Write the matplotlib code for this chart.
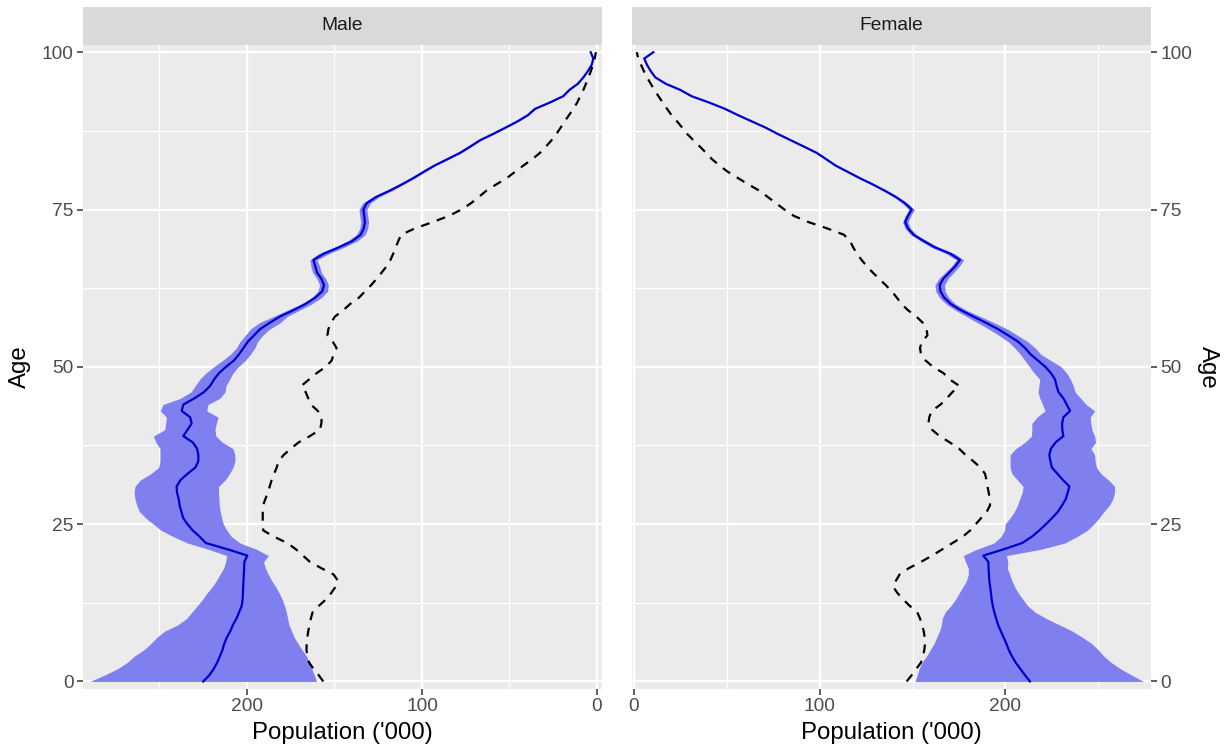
import numpy as np
import matplotlib
matplotlib.use('Agg')
import matplotlib.pyplot as plt
from matplotlib.ticker import MultipleLocator

plt.rcParams['font.family'] = ['Liberation Sans', 'DejaVu Sans']

ages = np.arange(0, 101)

# population ('000) by single year of age
male_med = [225, 221.5, 219, 217, 215.5, 214, 213, 211.5, 209.5, 208,
            206, 204.5, 203, 202.5, 202.3, 202.2, 202, 201.8, 201.6, 201.5,
            199.8, 211, 223.5, 227, 231, 234, 236.5, 237.5, 238.5, 239,
            240, 240.2, 238, 234, 229.5, 227.8, 227.8, 228.5, 231, 236.4,
            234, 231.6, 232.5, 237.3, 236.4, 230, 224.5, 221, 218.8, 216,
            212, 207.5, 204.5, 202, 199.5, 196, 192.5, 187, 181.1, 173.5,
            166.5, 161, 157, 156, 157.5, 160, 161, 162, 156, 147.5,
            139.8, 135, 133.3, 132.6, 133, 133.5, 131.6, 126.3, 118.5, 111.5,
            105, 99, 92.8, 85.5, 78.3, 72.5, 66.9, 59.5, 52.4, 45.5,
            39.5, 35.4, 27, 19.4, 15.8, 10.9, 7.8, 5.2, 3, 2.1,
            3.6]
male_hi = [289.7, 281.5, 274, 268.5, 264.5, 259, 255, 251.5, 247, 239.5,
           234.5, 231.5, 228.5, 225.5, 223, 220, 217.5, 215.5, 213.3, 212.2,
           211.6, 222, 234, 242, 249, 253.5, 258, 261.5, 263, 264,
           264.5, 264, 261, 255, 250.5, 249.7, 249.7, 249.7, 252, 253.5,
           247, 246.5, 246, 249.5, 248, 238, 232, 229.5, 227, 223.5,
           219, 214, 209.5, 206, 204, 201, 198, 193, 185, 177,
           169, 163, 159.5, 158.5, 160, 162.5, 163.5, 164, 159, 150,
           142.5, 137.5, 135.5, 135, 135.5, 136, 134, 128, 120, 113,
           106, 99.8, 93.5, 86.2, 79, 73.2, 67.5, 60.2, 53, 46.2,
           40, 36, 27.5, 19.8, 16.1, 11.2, 8, 5.4, 3.2, 2.3,
           3.8]
male_lo = [160.2, 161.5, 163, 164.5, 166, 168.5, 170.8, 173, 174.5, 176,
           176.8, 177.5, 178.5, 179.8, 181.5, 183.5, 185.8, 187.8, 189.5, 190.5,
           187.8, 194.5, 204, 208.8, 211.5, 213.5, 214.5, 215.3, 215.8, 216,
           216.3, 216.2, 212.5, 210, 208, 206.9, 206.9, 208, 214, 217.8,
           218.3, 217.5, 216.5, 223, 222.3, 215.5, 212.5, 212, 210, 208,
           205, 201, 198, 195.5, 194, 191, 187, 181, 177, 170,
           163, 157.5, 154, 153.5, 155, 157.5, 158.5, 160, 153, 144.5,
           137, 132.5, 131, 130.5, 131, 131.5, 129.5, 124.5, 117, 110.5,
           104, 98.2, 92, 84.8, 77.5, 71.8, 66.3, 58.8, 51.8, 44.8,
           39, 35, 26.7, 19, 15.5, 10.6, 7.6, 5.1, 2.9, 2.0,
           3.4]
male_obs = [156.4, 159, 162, 164.5, 165.5, 166, 165.9, 165.5, 165, 164.2,
            163.5, 162.5, 159, 155, 152, 149.5, 148, 150.5, 157.5, 164,
            168, 172, 177, 184.5, 190.7, 191, 191, 191, 190.8, 189.5,
            188, 187, 185.9, 184.5, 183, 182, 179, 175, 170.5, 164,
            158.3, 157.5, 157.3, 159.5, 163.5, 165, 166.5, 168.8, 164.5, 160.2,
            155, 151.6, 150.5, 148.8, 151, 154, 153.5, 152, 149.7, 145,
            141, 136, 132.5, 129, 125.9, 123, 120.2, 118, 116.4, 115,
            113.5, 112, 104, 94, 84.5, 77.5, 72, 67.5, 63.2, 57.5,
            51.5, 46.8, 42, 37, 32.6, 29.2, 26, 23.2, 20.8, 18.5,
            16, 13.5, 11.3, 9.6, 7.8, 6.3, 4.8, 3.5, 2.3, 1.3,
            0.6]

female_med = [213.2, 210.5, 208, 205.5, 203.5, 201.8, 200.5, 199, 197.5, 196,
              195, 194, 193.2, 192.6, 192.2, 191.8, 191.3, 191.1, 190.9, 190.8,
              188.1, 199, 209, 214.2, 218.2, 221.8, 225.2, 228.3, 230.5, 232.5,
              233.5, 234.4, 231, 228, 225, 224.2, 223.6, 224.5, 227, 231.2,
              230.6, 230.5, 231.2, 234.8, 233, 231.2, 228.5, 227.5, 226.7, 224.5,
              221.5, 217.5, 213.5, 210.5, 206.8, 201.5, 196, 189.5, 182.7, 176,
              170.5, 167, 165, 164.6, 166.5, 169.8, 173, 175.5, 170.2, 162,
              156, 150.5, 147.5, 146, 147.5, 149.5, 145.9, 141, 135, 128.5,
              121.5, 115, 108.5, 103.5, 98.4, 91.5, 84.5, 77.5, 71, 63.5,
              56, 49, 40.5, 31.1, 25, 17, 11.5, 9, 7, 5.5,
              10.4]
female_lo = [151.3, 152.5, 153.5, 155, 157.5, 159.5, 161.5, 163, 164.5, 165.5,
             166, 167.5, 170.5, 173, 175, 177, 179, 180, 180, 178.5,
             177.3, 184.5, 193.8, 197.5, 199.5, 199.8, 202.5, 204.8, 206.5, 207.6,
             209, 209.5, 206.5, 203.5, 202.5, 202.5, 202.5, 205.5, 210.5, 214,
             214.2, 214.2, 217, 221.3, 220, 218.5, 217.5, 218, 218.5, 215.5,
             213, 210.5, 208, 205, 201.5, 196.5, 191, 185, 179, 173,
             168, 164.5, 162.5, 162, 164, 167.5, 171, 173.5, 168, 160,
             154.3, 149, 146, 144.6, 146, 148, 144.5, 139.8, 134, 127.7,
             120.7, 114.3, 107.8, 102.9, 97.8, 90.9, 84, 77, 70.5, 63,
             55.5, 48.5, 40.1, 30.7, 24.7, 16.7, 11.3, 8.8, 6.8, 5.3,
             10.2]
female_hi = [274.3, 268, 262, 257, 253, 250, 246.5, 241.5, 236, 229,
             222, 216, 212, 209.5, 207, 205, 203.5, 202.3, 201, 201.3,
             200.5, 219, 232, 238.4, 244, 247.5, 250.5, 253, 256, 257.8,
             258.7, 258.8, 255.5, 251.5, 249, 248.3, 248, 246, 248.5, 248,
             246.5, 246, 245.6, 248, 243.5, 240.5, 237.5, 236.5, 235, 233,
             230, 224.5, 219, 216, 212, 206.5, 201, 194, 186.5, 179,
             173, 169.5, 167.5, 167.2, 169, 172.2, 175.2, 177.5, 172.5, 164,
             157.8, 152, 149, 147.5, 149, 151, 147.3, 142.2, 136, 129.3,
             122.3, 115.7, 109.2, 104.1, 99, 92.1, 85, 78, 71.5, 64,
             56.5, 49.5, 40.9, 31.5, 25.3, 17.3, 11.7, 9.2, 7.2, 5.7,
             10.6]
female_obs = [146.8, 149.5, 152, 154.5, 155.5, 156.3, 156.7, 156.5, 156, 155,
              154, 152.5, 148.5, 145, 142, 139.6, 141, 143, 148, 154.5,
              160.5, 166, 171.5, 177, 181, 184, 187, 190, 191.7, 191.5,
              191, 190.3, 189.8, 189, 186.5, 182.7, 178.5, 175, 170, 164.5,
              160.5, 158.5, 159, 160.3, 165, 168.4, 171.5, 175, 170, 166.6,
              161, 157, 154.5, 154, 155, 158, 157.5, 155.5, 152, 147.5,
              144, 141.5, 138.8, 135.5, 132, 128.5, 125.3, 122.5, 120, 118,
              116.3, 113, 104, 94, 86, 81, 76.5, 72, 67.5, 61.5,
              56, 50.5, 46, 42, 38.8, 35.5, 32, 28.7, 26, 23.2,
              20.2, 17.8, 15.5, 13.2, 11, 9, 7, 5.3, 3.8, 2.3,
              1.5]

W, H = 1227, 749
fig = plt.figure(figsize=(W / 100, H / 100), dpi=100)


def px_axes(x0, y0, x1, y1):
    return fig.add_axes([x0 / W, 1 - y1 / H, (x1 - x0) / W, (y1 - y0) / H])


panels = [
    ("Male", 83, 601.7, (293.7, -2.7), male_lo, male_hi, male_med, male_obs, 'left'),
    ("Female", 632, 1150.7, (-1.08, 278.2), female_lo, female_hi, female_med, female_obs, 'right'),
]

for name, x0, x1, xlim, lo, hi, med, obs, yside in panels:
    ax = px_axes(x0, 45, x1, 689)
    ax.set_facecolor('#EBEBEB')
    ax.fill_betweenx(ages, lo, hi, color='#7F7FEF', lw=0)
    ax.plot(med, ages, color='#0000CD', lw=1.6)
    ax.plot(obs, ages, color='black', lw=1.6, ls=(0, (4, 3.5)))
    ax.set_xlim(*xlim)
    ax.set_ylim(-1.2, 101.15)
    ax.set_xticks([0, 100, 200])
    ax.set_yticks([0, 25, 50, 75, 100])
    ax.xaxis.set_minor_locator(MultipleLocator(50))
    ax.yaxis.set_minor_locator(MultipleLocator(12.5))
    ax.grid(which='major', color='white', lw=1.6)
    ax.grid(which='minor', color='white', lw=0.8)
    ax.set_axisbelow(True)
    for s in ax.spines.values():
        s.set_visible(False)
    ax.tick_params(which='major', length=4.3, width=1.1, color='#333333',
                   labelcolor='#4D4D4D', labelsize=13.8, pad=2.5)
    ax.tick_params(which='minor', length=0)
    if yside == 'right':
        ax.yaxis.tick_right()
    ax.set_xlabel("Population ('000)", fontsize=17.3, labelpad=5)

    strip = px_axes(x0, 7, x1, 45)
    strip.set_facecolor('#D9D9D9')
    strip.set_xticks([])
    strip.set_yticks([])
    for s in strip.spines.values():
        s.set_visible(False)
    strip.text(0.5, 0.5, name, ha='center', va='center', fontsize=13.8,
               color='#1A1A1A', transform=strip.transAxes)

fig.text(20 / W, 1 - 367 / H, "Age", rotation=90, ha='center', va='center', fontsize=17.3)
fig.text(1208 / W, 1 - 367 / H, "Age", rotation=270, ha='center', va='center', fontsize=17.3)

fig.savefig("out.png", dpi=100)
